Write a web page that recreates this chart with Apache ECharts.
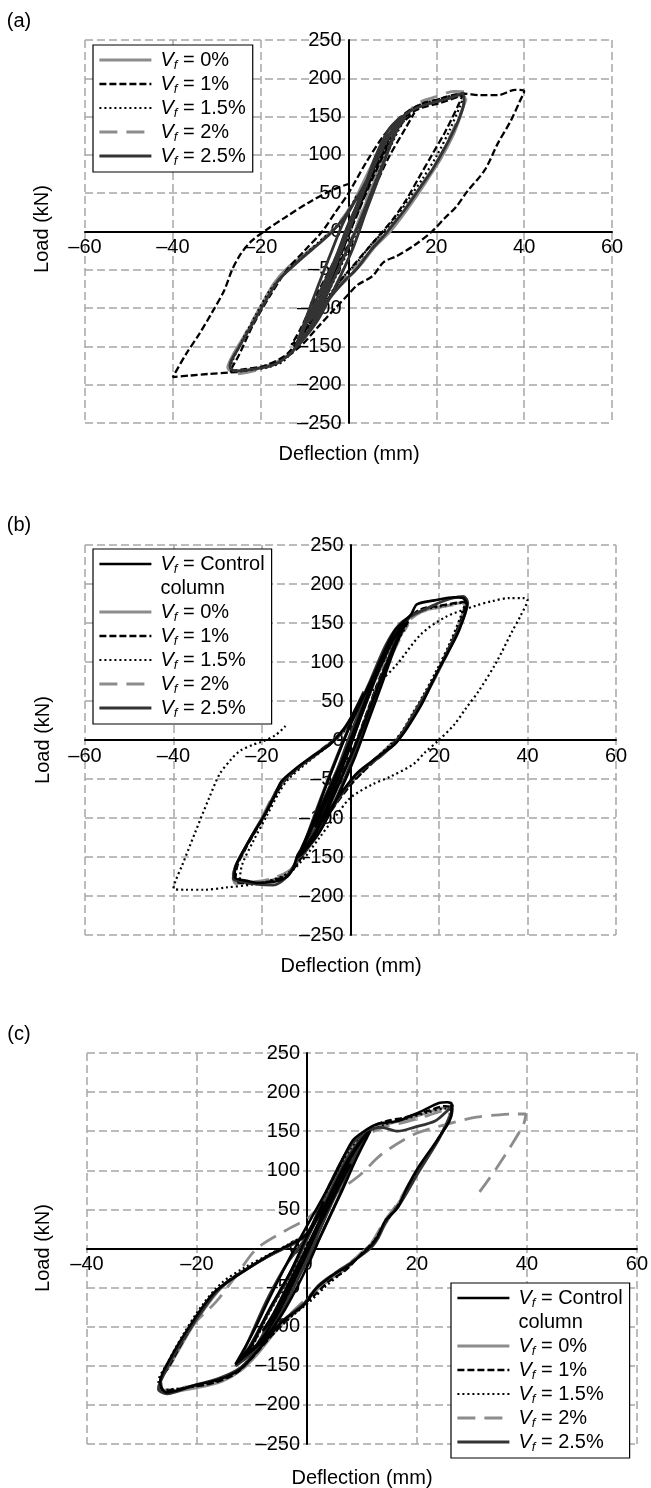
<!DOCTYPE html>
<html>
<head>
<meta charset="utf-8">
<script src="https://cdn.jsdelivr.net/npm/echarts@6/dist/echarts.min.js"></script>
<style>
  html, body { margin: 0; padding: 0; background: #fff; }
  #main { width: 651px; height: 1488px; }
</style>
</head>
<body>
<div id="main"></div>
<script>
// tick values
const xTicksAB = [-60, 60];
const xTicksC = [-40, 60];
const yTicks = [-250, 250];

// panel (a) — load/deflection loops [deflection mm, load kN]
const aVf0 = [[0,0],[2,28],[4,58],[6,88],[7,100],[5,80],[2,35],[-1,-8],[-4,-52],[-7,-95],[-8,-108],[-6,-88],[-3,-42],[0,5],[3,48],[6,92],[9,122],[11,140],[12.5,150],[10.5,128],[7,82],[4,38],[1,-6],[-3,-58],[-6,-96],[-9,-128],[-11,-145],[-9,-124],[-5,-70],[-2,-28],[1,18],[4,62],[8,112],[11,140],[14,158],[18,166],[22,172],[25,177],[26.5,176],[26,160],[24,128],[21,95],[18,68],[15,42],[12,18],[9.5,0],[6,-20],[3,-42],[0,-60],[-3,-78],[-6,-102],[-10,-138],[-13,-158],[-17,-172],[-22,-180],[-26,-184],[-27.5,-178],[-26,-158],[-23,-130],[-20,-98],[-17,-68],[-14,-48],[-10,-30],[-6,-12],[-3,5],[0,25],[3,60],[6,95]];
const aVf1 = [[0,0],[3,40],[6,80],[9,115],[6,90],[3,45],[0,5],[-3,-35],[-6,-80],[-9,-120],[-6,-95],[-3,-50],[0,-5],[4,50],[8,100],[12,140],[15,155],[13,135],[9,95],[5,45],[2,5],[-2,-40],[-6,-85],[-10,-130],[-13,-148],[-11,-128],[-7,-80],[-3,-35],[0,10],[4,60],[8,110],[12,145],[16,160],[21,168],[26,178],[25,165],[22,130],[19,100],[16,70],[13,40],[10,15],[7,-5],[4,-25],[1,-45],[-2,-65],[-6,-100],[-10,-130],[-14,-160],[-19,-175],[-24,-180],[-27,-182],[-25,-162],[-22,-125],[-18,-85],[-14,-50],[-10,-25],[-6,0],[-3,25],[0,50],[4,90],[8,125],[12,150],[16,165],[20,172],[26,180],[30,178],[34,178],[38,185],[40,183],[39,170],[37,145],[34,115],[31,80],[27,52],[24.5,32],[22,18],[19,0],[15,-18],[11,-32],[8,-40],[5.5,-58],[2,-70],[0,-82],[-3,-100],[-7,-125],[-11,-150],[-16,-170],[-22,-180],[-27,-184],[-32,-186],[-36,-188],[-40,-190],[-37,-160],[-34,-134],[-31,-105],[-28.3,-77],[-26.5,-50],[-24.5,-29],[-22,-12],[-19,1],[-14,20],[-9,38],[-3.8,54],[0,62]];
const aVf15 = [[0,0],[3,38],[6,80],[8,102],[6,82],[3,38],[0,-5],[-3,-45],[-6,-88],[-8,-110],[-6,-90],[-3,-48],[0,-2],[4,55],[8,105],[11,135],[13,148],[11,128],[7,78],[4,32],[1,-12],[-3,-60],[-7,-108],[-10,-138],[-12,-150],[-10,-128],[-6,-75],[-2,-25],[2,28],[6,85],[10,128],[13,152],[16,165],[20,172],[24,178],[26.5,180],[25.5,165],[23,132],[20,98],[17,70],[14,45],[11,20],[8,0],[5,-18],[2,-40],[-1,-58],[-4,-80],[-8,-115],[-12,-150],[-15,-170],[-19,-178],[-24,-182],[-27,-183],[-26.5,-170],[-24,-140],[-21,-108],[-18,-78],[-15,-58],[-11,-36],[-7,-15],[-4,0],[-1,18],[2,48]];
const aVf2 = [[0,0],[3,42],[6,85],[8,105],[6,86],[3,45],[0,0],[-3,-45],[-6,-90],[-8,-112],[-6,-92],[-3,-48],[0,2],[4,60],[8,110],[11,140],[13,150],[11,132],[7,85],[4,40],[1,-5],[-3,-55],[-7,-105],[-10,-135],[-12,-152],[-10,-130],[-6,-78],[-2,-30],[2,22],[6,82],[10,128],[13,152],[16,168],[20,176],[24,183],[27,181],[26.5,168],[24,135],[21,100],[18,72],[15,48],[12,22],[9,2],[6,-16],[3,-38],[0,-55],[-3,-75],[-7,-110],[-11,-145],[-15,-168],[-19,-178],[-23,-184],[-26,-186],[-27,-178],[-25,-150],[-22,-118],[-19,-88],[-16,-62],[-12,-40],[-8,-20],[-4,0],[-1,20],[2,48]];
const aVf25 = [[0,0],[2,30],[4,60],[6,88],[8,110],[6,92],[3,50],[0,8],[-3,-38],[-6,-82],[-9,-118],[-7,-102],[-4,-60],[-1,-15],[2,32],[5,75],[8,112],[11,138],[13,150],[11,132],[8,90],[5,48],[2,5],[-2,-45],[-6,-95],[-9,-128],[-11,-142],[-10,-125],[-7,-85],[-3,-35],[0,10],[3,48],[6,96],[9,132],[12,150],[10,122],[7,72],[4,26],[1,-22],[-3,-72],[-7,-116],[-11,-146],[-12,-150],[-10,-118],[-7,-72],[-4,-28],[-1,14],[4,65],[8,115],[12,148],[15,160],[19,168],[23,174],[26,180],[26.3,170],[25,145],[22,110],[19,80],[16,55],[13,30],[10,8],[8,-6],[5,-25],[2,-48],[-1,-65],[-5,-92],[-9,-128],[-13,-158],[-17,-174],[-22,-180],[-26,-182],[-27,-175],[-25,-152],[-22,-122],[-19,-92],[-16,-64],[-12,-42],[-8,-22],[-4,-2],[-1,18],[2,45]];

// panel (b)
const bControl = [[0,0],[3,42],[6,85],[9,122],[7,105],[4,60],[1,15],[-2,-28],[-5,-72],[-8,-112],[-6,-95],[-3,-52],[0,-8],[3,40],[7,98],[10,132],[13,152],[11,135],[8,95],[5,50],[2,5],[-2,-48],[-6,-98],[-9,-130],[-12,-148],[-10,-128],[-6,-78],[-2,-28],[1,15],[4,58],[8,112],[11,142],[12.5,150],[10,118],[7,70],[4,24],[1,-22],[-3,-74],[-7,-118],[-11,-146],[-12,-150],[-9,-112],[-6,-66],[-3,-22],[0,20],[5,80],[10,140],[13.7,161],[15,174],[19,179],[23.5,183],[25.4,182],[26.3,174],[24.5,140],[22,112],[19.8,89],[18,68],[16.1,46],[14,26],[12.4,12],[10,-5.5],[7,-18],[4.9,-27],[1.2,-44],[-3,-75],[-7,-110],[-10,-135],[-11.9,-147],[-13,-165],[-14.5,-176],[-17.5,-182],[-21,-183],[-23,-181],[-26.2,-176],[-25.8,-160],[-23,-130],[-19.3,-95],[-17,-70],[-15.6,-53],[-12,-35],[-9.2,-23],[-4.6,-5.5],[-0.8,20],[3,60]];
const bVf0 = [[0,0],[3,40],[6,82],[8,105],[6,88],[3,45],[0,0],[-3,-42],[-6,-85],[-8,-108],[-6,-90],[-3,-48],[0,-5],[4,55],[8,108],[11,138],[13,150],[11,130],[7,82],[4,38],[1,-8],[-3,-58],[-7,-105],[-10,-135],[-12,-150],[-10,-130],[-6,-80],[-2,-30],[2,25],[6,88],[10,135],[13,155],[16,165],[20,170],[24,175],[26,178],[25.5,165],[23.5,130],[20.5,95],[17.5,62],[15,38],[12,12],[9.5,-5],[6,-22],[3,-38],[0,-55],[-4,-85],[-8,-120],[-11,-148],[-14,-170],[-18,-180],[-23,-183],[-26.5,-178],[-26,-162],[-23.5,-135],[-20,-100],[-17,-70],[-15,-52],[-11,-32],[-7,-15],[-3,2],[0,22],[3,55]];
const bVf1 = [[0,0],[3,44],[6,86],[8,108],[6,90],[3,48],[0,2],[-3,-40],[-6,-84],[-8,-110],[-6,-92],[-3,-50],[0,-4],[4,58],[8,110],[11,140],[13,152],[11,133],[7,85],[4,40],[1,-6],[-3,-56],[-7,-104],[-10,-133],[-12,-148],[-10,-128],[-6,-76],[-2,-28],[2,28],[6,90],[10,138],[13,156],[16,168],[20,172],[24,176],[26,177],[25.5,162],[23,128],[20,92],[17,60],[14.5,35],[12,10],[9,-8],[6,-24],[3,-40],[0,-58],[-4,-88],[-8,-124],[-11,-150],[-14,-172],[-18,-181],[-22,-184],[-26,-180],[-25.5,-160],[-23,-132],[-19.5,-98],[-16.5,-66],[-14.5,-50],[-10.5,-30],[-6.5,-12],[-3,4],[0,24],[3,58]];
const bVf15 = [[0,0],[3,40],[6,84],[8,106],[6,88],[3,44],[0,0],[-3,-44],[-6,-88],[-8,-110],[-6,-90],[-3,-46],[0,-2],[4,56],[8,108],[11,138],[13,150],[11,130],[7,82],[4,36],[1,-8],[-3,-58],[-7,-106],[-10,-134],[-12,-150],[-10,-130],[-6,-78],[-2,-28],[2,26],[6,86],[10,134],[13,155],[16,166],[20,171],[24,175],[26,176],[25,160],[22.5,125],[19.5,90],[16.5,58],[14,34],[11.5,10],[9,-6],[6,-22],[3,-40],[0,-56],[-4,-86],[-8,-122],[-11,-150],[-14,-170],[-18,-180],[-22,-185],[-25,-180],[-24.5,-160],[-22,-130],[-19,-98],[-16,-66],[-14,-50],[-10,-30],[-6,-12],[-2,8],[2,40],[6,70],[10.5,97],[16,136],[21.6,158],[28.2,172],[32,178],[36,182],[39,182],[40,180],[38.5,160],[36.6,140],[33,100],[29,63],[26,40],[23.5,20],[19.8,-1],[17,-15],[14.2,-31],[9,-47],[4.9,-57],[0,-74],[-3,-95],[-7,-125],[-11,-155],[-15,-175],[-22,-185],[-28,-189],[-33,-192],[-37.4,-192],[-40,-190],[-39.5,-180],[-38,-160],[-35,-117],[-32,-75],[-29.6,-44],[-27,-25],[-25,-14],[-22,-6],[-20.4,-3],[-17,6],[-14.7,18]];
const bVf2 = [[0,0],[3,42],[6,86],[8,108],[6,90],[3,46],[0,0],[-3,-44],[-6,-86],[-8,-108],[-6,-88],[-3,-46],[0,-2],[4,56],[8,106],[11,136],[13,148],[11,128],[7,80],[4,36],[1,-8],[-3,-56],[-7,-104],[-9,-125],[-10.5,-140],[-9,-122],[-6,-80],[-2,-30],[2,24],[6,85],[10,132],[13,152],[16,164],[20,170],[24,174],[26,176],[25.5,160],[23,126],[20,90],[17,58],[14.5,34],[12,10],[9,-6],[6,-22],[3,-38],[0,-55],[-4,-86],[-8,-122],[-11,-150],[-14,-168],[-18,-178],[-22,-182],[-26,-184],[-26.5,-172],[-24,-142],[-20.5,-105],[-17.5,-72],[-15,-52],[-11,-32],[-7,-14],[-3,4],[0,22],[3,55]];
const bVf25 = [[0,0],[2,30],[5,72],[8,110],[9,122],[7,100],[4,55],[1,10],[-2,-32],[-5,-75],[-8,-115],[-9,-125],[-7,-105],[-4,-62],[-1,-18],[3,42],[7,100],[10,135],[13,155],[11,138],[8,96],[5,52],[2,6],[-2,-48],[-6,-100],[-9,-132],[-12,-150],[-10,-132],[-7,-88],[-3,-38],[0,8],[3,50],[7,105],[10,138],[12,150],[9.5,115],[6.5,68],[3.5,22],[0.5,-24],[-3.5,-78],[-7.5,-122],[-11,-148],[-11.5,-150],[-9,-110],[-6,-64],[-3,-20],[0,20],[4,70],[8,122],[11,148],[14,160],[17,168],[20,176],[23,182],[25.5,184],[26.5,176],[25,150],[22,115],[19.5,85],[17,60],[14.5,36],[12,12],[10,-4],[7,-20],[4.5,-30],[1,-46],[-3,-78],[-7,-112],[-10.5,-140],[-12.5,-158],[-14.5,-176],[-17.5,-186],[-21,-185],[-24,-182],[-26.5,-178],[-26,-162],[-23,-130],[-19.5,-96],[-16,-58],[-12.5,-38],[-9,-24],[-5,-6],[-1,18],[3,62]];

// panel (c)
const cControl = [[0,0],[3,40],[6,82],[8,108],[6,90],[3,46],[0,2],[-3,-40],[-6,-82],[-8,-105],[-6,-88],[-3,-45],[0,-2],[3,45],[6,92],[9,128],[11,148],[9,130],[6,88],[3,42],[0,-6],[-3,-50],[-6,-92],[-9,-122],[-12,-140],[-10,-122],[-7,-80],[-3,-30],[0,15],[3,52],[7,108],[10,140],[11.5,150],[9,115],[6,68],[3,24],[0,-24],[-4,-78],[-8,-118],[-12,-142],[-13,-148],[-10,-110],[-7,-66],[-4,-24],[-1,16],[4.5,86],[8.2,137],[10.4,150],[12.7,159],[16.5,163],[19,170],[21,176],[24,186],[25.5,187],[26.3,185],[26.3,172],[24,142],[20.2,103],[18,75],[16.5,52],[14.2,35],[12.7,13],[11.2,0.4],[7.7,-21],[4.7,-34],[1.7,-51],[-0.5,-72],[-4.6,-94],[-9.1,-132],[-12.1,-154],[-15.8,-167],[-20.4,-175],[-25.6,-184],[-26.7,-171],[-24.9,-141],[-21.2,-98],[-16.7,-55],[-10.6,-25],[-6.8,-8],[-3.1,5],[-0.1,18],[3,60]];
const cVf0 = [[0,0],[3,42],[6,84],[8,108],[6,90],[3,46],[0,0],[-3,-42],[-6,-84],[-8,-106],[-6,-88],[-3,-44],[0,0],[3,46],[6,92],[9,126],[11,145],[9,128],[6,85],[3,40],[0,-8],[-3,-52],[-6,-94],[-9,-124],[-12,-142],[-10,-124],[-7,-82],[-3,-32],[0,12],[4,78],[8,130],[11,150],[14,158],[18,165],[22,174],[25,180],[26.5,178],[26,166],[23.5,135],[20,100],[17,62],[15,40],[12.5,12],[10.5,-2],[7.5,-24],[4.5,-38],[1.5,-55],[-1,-75],[-5,-100],[-9,-135],[-12,-156],[-15.5,-170],[-20,-178],[-25,-183],[-27,-178],[-26,-160],[-24,-138],[-21,-102],[-17,-62],[-14,-40],[-10,-22],[-6,-6],[-3,6],[0,20],[3,58]];
const cVf1 = [[0,0],[3,40],[6,82],[8,106],[6,88],[3,44],[0,0],[-3,-42],[-6,-84],[-8,-106],[-6,-88],[-3,-44],[0,-2],[3,44],[6,90],[9,126],[11,146],[9,128],[6,86],[3,40],[0,-8],[-3,-52],[-6,-94],[-9,-124],[-12,-142],[-10,-124],[-7,-82],[-3,-32],[0,14],[4,80],[8,132],[11,152],[14,162],[18,168],[22,176],[25,182],[26.3,180],[26,168],[23.5,136],[20,98],[17,60],[14.5,36],[12.3,10],[10,-6],[7,-28],[4,-42],[1,-62],[-2,-80],[-6,-108],[-10,-140],[-13,-160],[-17,-172],[-22,-178],[-26,-182],[-26.8,-172],[-25,-150],[-22,-112],[-18.5,-72],[-15,-45],[-11,-26],[-6.5,-8],[-3,5],[0,18],[3,58]];
const cVf15 = [[0,0],[3,38],[6,80],[8,104],[6,86],[3,42],[0,-2],[-3,-44],[-6,-86],[-8,-108],[-6,-90],[-3,-46],[0,-2],[3,44],[6,90],[9,124],[11,144],[9,126],[6,84],[3,38],[0,-10],[-3,-54],[-6,-96],[-9,-126],[-12,-145],[-10,-126],[-7,-84],[-3,-34],[0,12],[4,78],[8,128],[11,148],[14,158],[18,166],[22,174],[25,179],[26.2,176],[25.8,164],[23,130],[19.5,92],[16.8,58],[14.5,35],[12,8],[9.5,-10],[6.5,-30],[3.5,-48],[0.5,-68],[-2.5,-85],[-6.5,-112],[-10.5,-142],[-13.5,-160],[-17.5,-172],[-22,-178],[-26.5,-181],[-27,-170],[-25.5,-148],[-22.5,-110],[-19,-72],[-15.5,-44],[-11.5,-25],[-7,-8],[-3.5,5],[0,20],[3,58]];
const cVf2 = [[0,0],[3,40],[6,82],[8,106],[6,88],[3,44],[0,0],[-3,-42],[-6,-84],[-8,-106],[-6,-88],[-3,-44],[0,-2],[3,44],[6,90],[9,124],[11,142],[9,124],[6,84],[3,40],[0,-8],[-3,-52],[-6,-94],[-9,-124],[-12,-142],[-10,-124],[-7,-82],[-3,-32],[0,12],[4,72],[8,122],[11,145],[14,155],[18,162],[22,170],[25,176],[26,174],[25.5,162],[23,130],[19.5,94],[16.5,58],[14,34],[11.8,8],[9.5,-8],[6.5,-26],[3.5,-42],[0.5,-60],[-2.5,-80],[-6,-106],[-10,-138],[-13,-158],[-17,-170],[-22,-177],[-26,-181],[-26.5,-170],[-24.5,-145],[-21,-100],[-16.5,-68],[-12.8,-34],[-9.1,0],[-3.1,26],[0,38],[4,64],[9.8,95],[13.5,120],[19.5,146],[25.5,159],[30.8,168],[35,171],[38.3,172],[39.8,172],[39.4,159],[37,130],[34.5,103],[32.5,83],[30.4,63]];
const cVf25 = [[0,0],[2,28],[5,70],[8,110],[9,122],[7,102],[4,58],[1,12],[-2,-30],[-5,-72],[-8,-110],[-9,-122],[-7,-104],[-4,-62],[-1,-16],[2,30],[5,78],[8,120],[10.5,145],[12,155],[10,136],[7,94],[4,50],[1,2],[-2,-44],[-5,-88],[-8,-120],[-11,-140],[-13,-150],[-11,-132],[-8,-94],[-4,-44],[0,12],[3,55],[7,112],[10,142],[11,148],[8.5,110],[5.5,62],[2.5,16],[-1,-30],[-5,-86],[-9,-126],[-12.5,-148],[-10,-108],[-7,-62],[-3.5,-18],[0,16],[4,80],[8,132],[11,150],[13.5,155],[16.5,150],[19.5,155],[23.3,163],[25.5,176],[26.5,184],[26.2,172],[24,140],[20.5,100],[17,58],[14.5,36],[13,14],[11.5,0],[8,-18],[5,-32],[2,-48],[-0.5,-70],[-4.5,-93],[-9,-130],[-12,-152],[-16,-166],[-21,-176],[-25.5,-186],[-27,-180],[-26.5,-168],[-24.5,-140],[-21,-100],[-16.5,-56],[-13,-36],[-7,-10],[-3,4],[0,18],[3,60]];

const FONT = 'Liberation Sans';
const GRAY = '#8c8c8c';

// line looks per fibre content
const styles = {
  ctrl: { color: '#000', width: 2.6, type: 'solid' },
  v0:   { color: GRAY, width: 2.8, type: 'solid' },
  v1:   { color: '#000', width: 2.3, type: [7, 3] },
  v15:  { color: '#000', width: 2.2, type: [2, 3] },
  v2:   { color: GRAY, width: 2.8, type: [18, 9] },
  v25:  { color: '#333', width: 2.8, type: 'solid' }
};

const legendText = {
  ctrl: '{v|V}{f|f}{t| = Control}',
  col: '{c|column}',
  v0: '{v|V}{f|f}{t| = 0%}',
  v1: '{v|V}{f|f}{t| = 1%}',
  v15: '{v|V}{f|f}{t| = 1.5%}',
  v2: '{v|V}{f|f}{t| = 2%}',
  v25: '{v|V}{f|f}{t| = 2.5%}'
};

function mk(name, key, data, idx) {
  const st = styles[key];
  return {
    name: name, type: 'line', data: data,
    xAxisIndex: idx, yAxisIndex: idx,
    symbol: 'none', smooth: 0.3, animation: false,
    lineStyle: { color: st.color, width: st.width, type: st.type },
    itemStyle: { color: st.color },
    z: 3
  };
}

function blank(name, idx) {
  return {
    name: name, type: 'line', data: [], xAxisIndex: idx, yAxisIndex: idx,
    symbol: 'none',
    lineStyle: { color: 'rgba(0,0,0,0)', width: 0 },
    itemStyle: { color: 'rgba(0,0,0,0)' }
  };
}

const keyOf = {};
function reg(name, key) { keyOf[name] = key; return name; }

const negFmt = v => (v < 0 ? '\u2013' + (-v) : String(v));

// axes sit on the zero lines: offset pulls them into the plot
function xAx(idx, range, off) {
  return {
    gridIndex: idx, type: 'value', min: range[0], max: range[1], interval: 20,
    position: 'bottom', offset: off,
    axisLine: { onZero: false, lineStyle: { color: '#000', width: 2 } },
    axisTick: { show: false },
    axisLabel: { color: '#000', fontSize: 20, fontFamily: FONT, margin: 6, formatter: negFmt },
    splitLine: { show: true, lineStyle: { color: '#a6a6a6', width: 1.5, type: [8, 4] } }
  };
}
function yAx(idx, off) {
  return {
    gridIndex: idx, type: 'value', min: yTicks[0], max: yTicks[1], interval: 50,
    position: 'left', offset: off,
    axisLine: { onZero: false, lineStyle: { color: '#000', width: 2 } },
    axisTick: { show: false },
    axisLabel: { color: '#000', fontSize: 20, fontFamily: FONT, margin: 7, formatter: negFmt },
    splitLine: { show: true, lineStyle: { color: '#a6a6a6', width: 1.5, type: [8, 4] } }
  };
}

const rich = {
  v: { fontStyle: 'italic', fontSize: 20, fontFamily: FONT, color: '#000', padding: [0, 0, 0, 4], lineHeight: 24 },
  f: { fontStyle: 'italic', fontSize: 13, fontFamily: FONT, color: '#000', verticalAlign: 'bottom', lineHeight: 14 },
  t: { fontSize: 20, fontFamily: FONT, color: '#000', lineHeight: 24 },
  c: { fontSize: 20, fontFamily: FONT, color: '#000', padding: [0, 0, 0, 4], lineHeight: 24 }
};

function leg(names, left, top) {
  return {
    data: names, orient: 'vertical', left: left, top: top,
    itemWidth: 52, itemHeight: 14, itemGap: 0,
    padding: [3, 7, 4, 5],
    backgroundColor: '#fff', borderColor: '#000', borderWidth: 1.2,
    selectedMode: false,
    itemStyle: { opacity: 0 },
    lineStyle: { width: 'inherit' },
    formatter: n => legendText[keyOf[n]],
    textStyle: { rich: rich, lineHeight: 24 }
  };
}

const series = [
  mk(reg('a0', 'v0'), 'v0', aVf0, 0),
  mk(reg('a2', 'v2'), 'v2', aVf2, 0),
  mk(reg('a15', 'v15'), 'v15', aVf15, 0),
  mk(reg('a1', 'v1'), 'v1', aVf1, 0),
  mk(reg('a25', 'v25'), 'v25', aVf25, 0),

  mk(reg('b0', 'v0'), 'v0', bVf0, 1),
  mk(reg('b2', 'v2'), 'v2', bVf2, 1),
  mk(reg('b1', 'v1'), 'v1', bVf1, 1),
  mk(reg('b15', 'v15'), 'v15', bVf15, 1),
  mk(reg('b25', 'v25'), 'v25', bVf25, 1),
  mk(reg('bC', 'ctrl'), 'ctrl', bControl, 1),
  blank(reg('bCol', 'col'), 1),

  mk(reg('c0', 'v0'), 'v0', cVf0, 2),
  mk(reg('c2', 'v2'), 'v2', cVf2, 2),
  mk(reg('c1', 'v1'), 'v1', cVf1, 2),
  mk(reg('c15', 'v15'), 'v15', cVf15, 2),
  mk(reg('c25', 'v25'), 'v25', cVf25, 2),
  mk(reg('cC', 'ctrl'), 'ctrl', cControl, 2),
  blank(reg('cCol', 'col'), 2)
];

function txt(s, x, y, rot) {
  return {
    type: 'text', x: x, y: y, rotation: rot || 0,
    style: { text: s, fill: '#000', font: '20px "' + FONT + '"', align: 'center', verticalAlign: 'middle' }
  };
}

const chart = echarts.init(document.getElementById('main'));
chart.setOption({
  backgroundColor: '#fff',
  animation: false,
  grid: [
    { left: 85, top: 40, width: 527, height: 383 },
    { left: 85, top: 545, width: 531, height: 390 },
    { left: 87, top: 1053, width: 550, height: 391 }
  ],
  xAxis: [xAx(0, xTicksAB, -191.5), xAx(1, xTicksAB, -195), xAx(2, xTicksC, -195.5)],
  yAxis: [yAx(0, -263.5), yAx(1, -265.5), yAx(2, -220)],
  legend: [
    leg(['a0', 'a1', 'a15', 'a2', 'a25'], 93, 45),
    leg(['bC', 'bCol', 'b0', 'b1', 'b15', 'b2', 'b25'], 93, 549),
    leg(['cC', 'cCol', 'c0', 'c1', 'c15', 'c2', 'c25'], 451, 1283)
  ],
  graphic: [
    txt('(a)', 19, 21), txt('(b)', 19, 525), txt('(c)', 19, 1034),
    txt('Load (kN)', 42, 229, Math.PI / 2),
    txt('Load (kN)', 43, 740, Math.PI / 2),
    txt('Load (kN)', 43, 1248, Math.PI / 2),
    txt('Deflection (mm)', 349, 454),
    txt('Deflection (mm)', 351, 966),
    txt('Deflection (mm)', 362, 1478)
  ],
  series: series
});
</script>
</body>
</html>
